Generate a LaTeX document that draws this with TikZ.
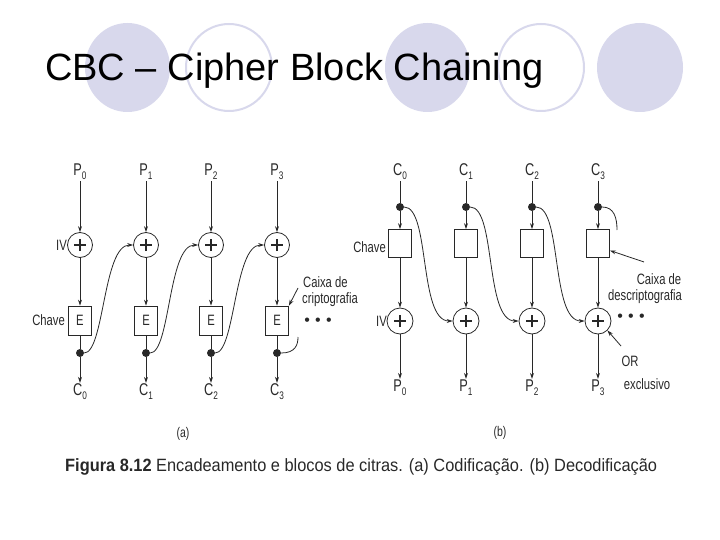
\documentclass[tikz,border=0pt]{standalone}
\usepackage{fontspec}
\setmainfont{Liberation Sans}
\newfontfamily\narrowf[FakeStretch=0.75]{Liberation Sans}
\newfontfamily\capf[FakeStretch=0.92]{Liberation Sans}
\usetikzlibrary{arrows.meta}
\definecolor{lav}{RGB}{216,216,236}
\definecolor{ink}{RGB}{40,40,40}
\newcommand{\lowsub}[1]{\raisebox{-0.45ex}{\fontsize{11}{11}\selectfont #1}}
\begin{document}
\begin{tikzpicture}[x=1pt,y=-1pt,
  line/.style={draw=ink, line width=0.8pt},
  arr/.style={line, -{Stealth[length=6pt,width=4pt]}},
  xorn/.style={circle, draw=ink, line width=0.8pt, minimum size=25pt, inner sep=0pt,
    path picture={\draw[ink, line width=1.2pt]
      ([xshift=-6pt]path picture bounding box.center) -- ([xshift=6pt]path picture bounding box.center)
      ([yshift=-6pt]path picture bounding box.center) -- ([yshift=6pt]path picture bounding box.center);}},
  boxn/.style={draw=ink, line width=0.8pt, minimum width=23pt, minimum height=29pt, inner sep=0pt,
    font=\narrowf\fontsize{15}{15}\selectfont, text=ink},
  dotn/.style={circle, fill=ink, minimum size=8pt, inner sep=0pt},
  lbl/.style={font=\narrowf\fontsize{17}{17}\selectfont, text=ink, inner sep=1pt},
  ann/.style={font=\narrowf\fontsize{15}{15}\selectfont, text=ink, inner sep=0pt},
  dots/.style={font=\fontsize{16}{16}\selectfont, text=ink, inner sep=0pt},
]
\useasboundingbox (0,0) rectangle (720,540);

% background circles
\fill[lav] (127.5,67.5) ellipse [x radius=42.5pt, y radius=44.5pt];
\draw[lav, line width=2pt, fill=white] (229,67.5) ellipse [x radius=43pt, y radius=43.5pt];
\fill[lav] (427.5,67.5) ellipse [x radius=42.5pt, y radius=44.5pt];
\draw[lav, line width=2pt, fill=white] (541,67.5) ellipse [x radius=43pt, y radius=43.5pt];
\fill[lav] (640,67.5) ellipse [x radius=43pt, y radius=44.5pt];

\node[anchor=base west, inner sep=0pt, font=\fontsize{38}{38}\selectfont] (title) at (45,81) {CBC – Cipher Block Chaining};

% ---------- (a) encryption ----------
\foreach \i/\x in {0/80,1/146,2/211,3/277}{
  \node[lbl] (aP\i) at (\x,172) {P\lowsub{\i}};
  \node[xorn] (aX\i) at (\x,245) {};
  \node[boxn] (aE\i) at (\x,320.5) {E};
  \node[dotn] (aD\i) at (\x,353) {};
  \node[lbl] (aC\i) at (\x,392) {C\lowsub{\i}};
  \draw[arr] (aP\i) -- (aX\i);
  \draw[arr] (aX\i) -- (aE\i);
  \draw[line] (aE\i) -- (aD\i);
  \draw[arr] (aD\i) -- (aC\i);
}
\draw[arr] (aD0.east) .. controls +(20,0) and +(-30,0) .. (aX1.west);
\draw[arr] (aD1.east) .. controls +(20,0) and +(-30,0) .. (aX2.west);
\draw[arr] (aD2.east) .. controls +(20,0) and +(-30,0) .. (aX3.west);
\coordinate (aEnd) at (298,337);
\draw[line] (aD3.east) .. controls +(14,0) and +(0,8) .. (aEnd);

\node[ann, anchor=east] (aIV) at (67,245) {IV};
\node[ann, anchor=east] (aKey) at (65,320.5) {Chave};
\node[ann, anchor=west] (aCx1) at (303,282) {Caixa de};
\node[ann, anchor=west] (aCx2) at (302,300) {criptografia};
\coordinate (aAt) at (298,288);
\draw[arr] (aAt) -- (aE3.north east);
\node[dots] (aDots) at (318,322) {•\,\,•\,\,•};

% ---------- (b) decryption ----------
\foreach \i/\x in {0/400,1/466,2/532,3/598}{
  \node[lbl] (bC\i) at (\x,172) {C\lowsub{\i}};
  \node[dotn] (bD\i) at (\x,207) {};
  \node[boxn, minimum height=28pt] (bB\i) at (\x,243.5) {};
  \node[xorn, minimum size=26pt] (bX\i) at (\x,321) {};
  \node[lbl] (bP\i) at (\x,388) {P\lowsub{\i}};
  \draw[line] (bC\i) -- (bD\i);
  \draw[arr] (bD\i) -- (bB\i);
  \draw[arr] (bB\i) -- (bX\i);
  \draw[arr] (bX\i) -- (bP\i);
}
\draw[arr] (bD0.east) .. controls +(26,0) and +(-34,0) .. (bX1.west);
\draw[arr] (bD1.east) .. controls +(26,0) and +(-34,0) .. (bX2.west);
\draw[arr] (bD2.east) .. controls +(26,0) and +(-34,0) .. (bX3.west);
\coordinate (bEnd) at (617,230);
\draw[line] (bD3.east) .. controls +(12,0) and +(0,-12) .. (bEnd);

\node[ann, anchor=east] (bIV) at (387,321) {IV};
\node[ann, anchor=east] (bKey) at (386,247) {Chave};
\node[ann] (bCx1) at (659,279) {Caixa de};
\node[ann, anchor=west] (bCx2) at (608,297) {descriptografia};
\coordinate (bAt) at (644,262);
\draw[arr] (bAt) -- ([yshift=-7pt]bB3.east);
\node[dots] (bDots) at (631,318) {•\,\,•\,\,•};
\node[ann] (bOr1) at (630,361) {OR};
\node[ann] (bOr2) at (647,384) {exclusivo};
\coordinate (bOrAt) at (621,346);
\draw[arr] (bOrAt) -- (bX3.south east);

% ---------- captions ----------
\node[ann, font=\narrowf\fontsize{14}{14}\selectfont] (capA) at (183,434) {(a)};
\node[ann, font=\narrowf\fontsize{14}{14}\selectfont] (capB) at (500,433) {(b)};
\node[anchor=west, inner sep=0pt, text=ink, font=\capf\fontsize{17.8}{17.8}\selectfont] (caption) at (65,467)
  {\textbf{Figura 8.12} Encadeamento e blocos de citras. (a) Codificação. (b) Decodificação};
\end{tikzpicture}
\end{document}
